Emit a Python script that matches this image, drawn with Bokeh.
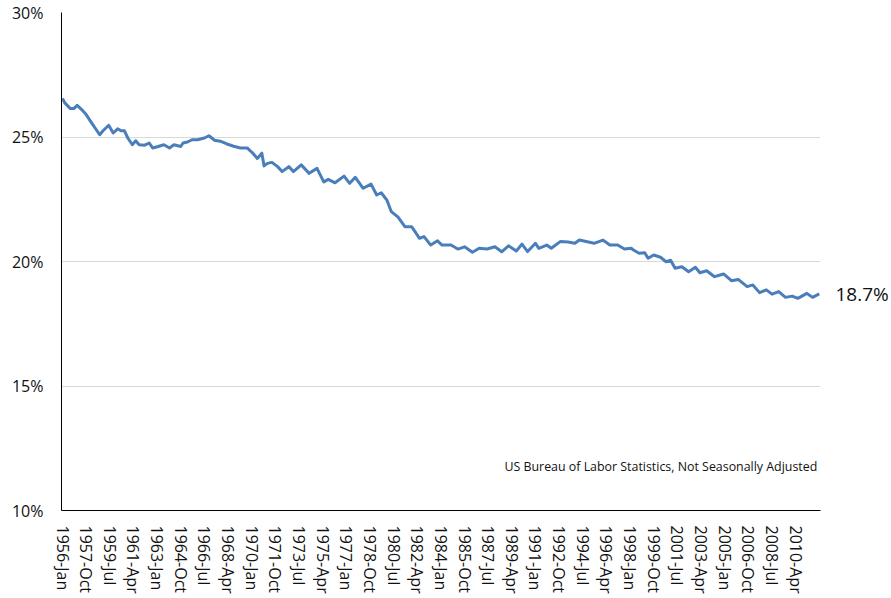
from bokeh.plotting import figure
from bokeh.models import Range1d, FixedTicker, Label, LinearAxis
from bokeh.embed import file_html
from bokeh.resources import INLINE

MONTH_NAMES = ["Jan", "Feb", "Mar", "Apr", "May", "Jun",
               "Jul", "Aug", "Sep", "Oct", "Nov", "Dec"]

# x-axis category tick labels (every 21 months)
tick_labels = ["1956-Jan", "1957-Oct", "1959-Jul", "1961-Apr", "1963-Jan", "1964-Oct",
               "1966-Jul", "1968-Apr", "1970-Jan", "1971-Oct", "1973-Jul", "1975-Apr",
               "1977-Jan", "1978-Oct", "1980-Jul", "1982-Apr", "1984-Jan", "1985-Oct",
               "1987-Jul", "1989-Apr", "1991-Jan", "1992-Oct", "1994-Jul", "1996-Apr",
               "1998-Jan", "1999-Oct", "2001-Jul", "2003-Apr", "2005-Jan", "2006-Oct",
               "2008-Jul", "2010-Apr"]

y_ticks = [10, 15, 20, 25, 30]
y_tick_labels = ["10%", "15%", "20%", "25%", "30%"]

dates = ["1956-01", "1956-03", "1956-08", "1956-11", "1957-02", "1957-06", "1957-10",
         "1958-03", "1958-07", "1958-10", "1959-01", "1959-06", "1959-10", "1960-02",
         "1960-05", "1960-08", "1960-11", "1961-03", "1961-06", "1961-09", "1962-02",
         "1962-06", "1962-09", "1963-02", "1963-07", "1963-12", "1964-04", "1964-10",
         "1964-12", "1965-04", "1965-08", "1966-01", "1966-07", "1966-11", "1967-04",
         "1967-09", "1968-03", "1968-09", "1969-03", "1969-09", "1969-12", "1970-02",
         "1970-06", "1970-10", "1970-12", "1971-03", "1971-07", "1971-12", "1972-04",
         "1972-10", "1973-02", "1973-09", "1974-04", "1974-11", "1975-05", "1975-09",
         "1976-03", "1976-11", "1977-04", "1977-09", "1978-04", "1978-11", "1979-04",
         "1979-08", "1980-01", "1980-05", "1980-11", "1981-05", "1981-11", "1982-01",
         "1982-06", "1982-10", "1983-04", "1983-10", "1984-02", "1984-10", "1985-04",
         "1985-10", "1986-05", "1986-11", "1987-06", "1988-01", "1988-07", "1989-01",
         "1989-08", "1990-01", "1990-06", "1991-01", "1991-04", "1991-11", "1992-03",
         "1992-11", "1993-06", "1993-12", "1994-04", "1994-12", "1995-05", "1996-01",
         "1996-07", "1997-02", "1997-08", "1998-02", "1998-04", "1998-09", "1999-02",
         "1999-05", "1999-10", "2000-04", "2000-09", "2001-01", "2001-05", "2001-11",
         "2002-05", "2002-11", "2003-03", "2003-09", "2004-04", "2004-12", "2005-07",
         "2006-01", "2006-09", "2007-02", "2007-08", "2008-02", "2008-07", "2009-01",
         "2009-07", "2010-01", "2010-06", "2011-02", "2011-07", "2012-01"]

share = [26.55, 26.37, 26.14, 26.14, 26.27, 26.10, 25.90,
         25.56, 25.29, 25.09, 25.25, 25.47, 25.16, 25.33,
         25.25, 25.25, 24.96, 24.69, 24.85, 24.69, 24.67,
         24.76, 24.56, 24.62, 24.69, 24.56, 24.69, 24.62,
         24.76, 24.80, 24.89, 24.89, 24.96, 25.05, 24.87,
         24.83, 24.72, 24.63, 24.56, 24.56, 24.43, 24.35,
         24.14, 24.35, 23.84, 23.94, 23.98, 23.81, 23.61,
         23.81, 23.61, 23.88, 23.54, 23.74, 23.20, 23.30,
         23.16, 23.43, 23.14, 23.38, 22.94, 23.11, 22.67,
         22.76, 22.47, 22.00, 21.78, 21.40, 21.40, 21.27,
         20.93, 21.00, 20.66, 20.83, 20.66, 20.66, 20.50,
         20.59, 20.37, 20.53, 20.50, 20.59, 20.39, 20.63,
         20.42, 20.70, 20.40, 20.73, 20.53, 20.66, 20.53,
         20.80, 20.78, 20.73, 20.86, 20.78, 20.73, 20.86,
         20.66, 20.66, 20.50, 20.53, 20.46, 20.33, 20.35,
         20.13, 20.26, 20.17, 19.99, 20.05, 19.73, 19.79,
         19.59, 19.77, 19.55, 19.63, 19.39, 19.50, 19.23,
         19.28, 18.99, 19.06, 18.75, 18.86, 18.69, 18.79,
         18.56, 18.61, 18.52, 18.72, 18.56, 18.70]

source_note = "US Bureau of Labor Statistics, Not Seasonally Adjusted"

START_YEAR = 1956


def date_index(s):
    y, m = s.split("-")
    return (int(y) - START_YEAR) * 12 + int(m) - 1


def label_index(s):
    y, mon = s.split("-")
    return (int(y) - START_YEAR) * 12 + MONTH_NAMES.index(mon)


xs = [date_index(d) for d in dates]
tick_pos = [label_index(t) for t in tick_labels]

FONT = "Open Sans"
TEXT = "#111111"

p = figure(width=891, height=598, output_backend="svg", toolbar_location=None,
           x_range=Range1d(-0.9, 673.1), y_range=Range1d(10, 30),
           min_border_left=61, min_border_right=65, min_border_top=12,
           min_border_bottom=88)
p.outline_line_color = None
p.background_fill_color = "white"
p.border_fill_color = "white"

p.xgrid.visible = False
p.ygrid.grid_line_color = "#d9d9d9"
p.ygrid.grid_line_width = 1
p.ygrid.ticker = FixedTicker(ticks=y_ticks)

p.yaxis.ticker = FixedTicker(ticks=y_ticks)
p.yaxis.major_label_overrides = {t: l for t, l in zip(y_ticks, y_tick_labels)}
p.yaxis.major_tick_line_color = None
p.yaxis.minor_tick_line_color = None
p.yaxis.axis_line_color = "black"
p.yaxis.axis_line_width = 1
p.yaxis.major_label_standoff = 12
p.yaxis.major_label_text_font = FONT
p.yaxis.major_label_text_font_size = "16px"
p.yaxis.major_label_text_color = TEXT

p.xaxis.ticker = FixedTicker(ticks=tick_pos)
p.xaxis.major_label_overrides = {t: l for t, l in zip(tick_pos, tick_labels)}
p.xaxis.major_label_orientation = "vertical"
p.xaxis.major_tick_line_color = None
p.xaxis.minor_tick_line_color = None
p.xaxis.axis_line_color = "black"
p.xaxis.axis_line_width = 1
p.xaxis.major_label_standoff = 9
p.xaxis.major_label_text_font = FONT
p.xaxis.major_label_text_font_size = "16px"
p.xaxis.major_label_text_color = TEXT

p.line(xs, share, line_color="#4a7ebb", line_width=3, line_join="round")

# end-value label drawn as a single-tick axis on the right
last_val = share[-1]
end_axis = LinearAxis(ticker=FixedTicker(ticks=[last_val]),
                      major_label_overrides={last_val: f"{last_val:.1f}%"})
end_axis.axis_line_color = None
end_axis.major_tick_line_color = None
end_axis.minor_tick_line_color = None
end_axis.major_label_standoff = 9
end_axis.major_label_text_font = FONT
end_axis.major_label_text_font_size = "19px"
end_axis.major_label_text_color = TEXT
p.add_layout(end_axis, "right")

p.add_layout(Label(x=xs[-1], y=11.75, text=source_note, x_offset=-2,
                   text_align="right", text_baseline="middle",
                   text_font=FONT, text_font_size="12.4px", text_color=TEXT))

open("out.html", "w").write(file_html(p, INLINE))
